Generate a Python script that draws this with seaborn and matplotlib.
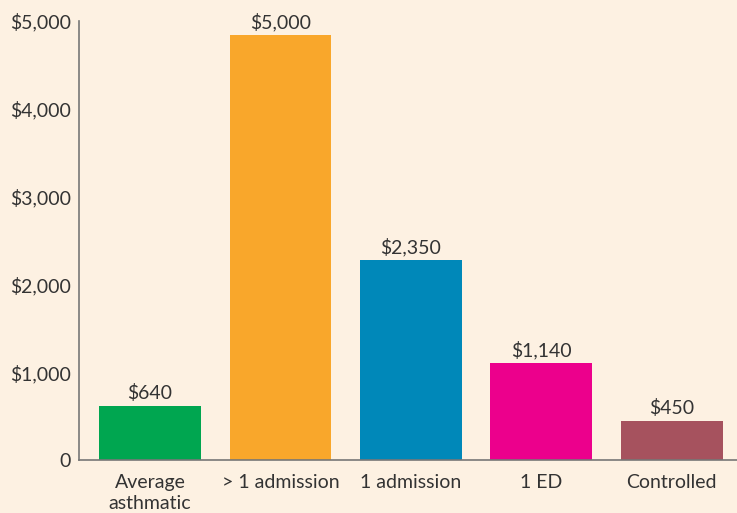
import matplotlib
matplotlib.use("Agg")
import matplotlib.pyplot as plt
import seaborn as sns
import pandas as pd

# values
categories = ["Average\nasthmatic", "> 1 admission", "1 admission", "1 ED", "Controlled"]
bar_heights = [615, 4840, 2280, 1105, 445]
value_labels = ["$640", "$5,000", "$2,350", "$1,140", "$450"]
bar_colors = ["#00a650", "#f9a72b", "#0088b9", "#ec008c", "#a6525e"]
y_ticks = [0, 1000, 2000, 3000, 4000, 5000]
y_tick_labels = ["0", "$1,000", "$2,000", "$3,000", "$4,000", "$5,000"]

bg = "#fdf1e2"
text_col = "#333333"

sns.set_style("white")
plt.rcParams["font.family"] = ["Lato", "DejaVu Sans"]

df = pd.DataFrame({"category": categories, "cost": bar_heights})

fig = plt.figure(figsize=(7.37, 5.13), dpi=100)
fig.patch.set_facecolor(bg)
ax = fig.add_axes([79 / 737, 53 / 513, 1 - 79 / 737, 439 / 513])
ax.set_facecolor(bg)

sns.barplot(data=df, x="category", y="cost", hue="category",
            palette=bar_colors, legend=False, width=0.78,
            saturation=1, linewidth=0, ax=ax)

for i, (h, lab) in enumerate(zip(bar_heights, value_labels)):
    ax.text(i, h + 40, lab, ha="center", va="bottom",
            fontsize=14, color=text_col)

ax.set_xlim(-0.544, 4.5)
ax.set_ylim(0, 5000)
ax.set_yticks(y_ticks)
ax.set_yticklabels(y_tick_labels)
ax.tick_params(axis="both", length=0, labelsize=14, colors=text_col)
ax.tick_params(axis="y", pad=6)
ax.tick_params(axis="x", pad=10)
for t in ax.get_xticklabels():
    t.set_linespacing(1.3)
ax.set_xlabel("")
ax.set_ylabel("")

sns.despine(ax=ax, top=True, right=True)
for side in ["left", "bottom"]:
    ax.spines[side].set_color("#777777")
    ax.spines[side].set_linewidth(1.2)

plt.savefig("out.png", dpi=100, facecolor=bg)
plt.close()
